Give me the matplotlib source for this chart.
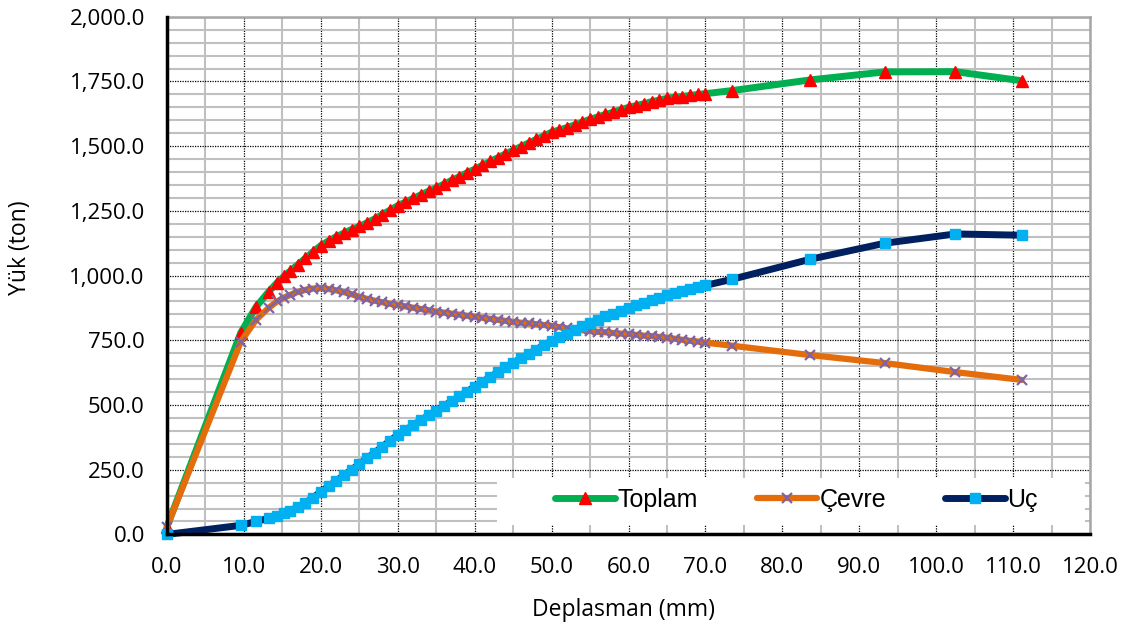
import matplotlib
matplotlib.use('Agg')
import matplotlib.pyplot as plt
from matplotlib.ticker import MultipleLocator, FuncFormatter
from matplotlib.patches import Rectangle

# deplasman (mm)
deplasman = [0, 9.6, 11.6, 13.2, 14.3, 15.2,
             16, 17, 18, 19, 20, 21, 22, 23, 24, 25, 26, 27, 28, 29,
             30, 31, 32, 33, 34, 35, 36, 37, 38, 39, 40, 41, 42, 43, 44,
             45, 46, 47, 48, 49, 50, 51, 52, 53, 54, 55, 56, 57, 58, 59,
             60, 61, 62, 63, 64, 65, 66, 67, 68, 69, 70,
             73.5, 83.6, 93.3, 102.5, 111.1]

toplam = [30, 780, 880, 937, 972, 997,
          1017, 1042, 1067, 1092, 1116, 1134, 1150, 1164, 1178, 1190, 1204, 1219, 1236, 1253,
          1270, 1284, 1298, 1312, 1326, 1339, 1353, 1368, 1382, 1397, 1411, 1426, 1441, 1455, 1470,
          1484, 1498, 1512, 1526, 1540, 1554, 1563, 1572, 1582, 1593, 1604, 1613, 1623, 1631, 1641,
          1650, 1657, 1664, 1672, 1678, 1685, 1689, 1692, 1696, 1700, 1703,
          1715, 1756, 1787, 1788, 1753]

cevre = [30, 745, 830, 875, 900, 915,
         925, 937, 945, 950, 951, 948, 943, 936, 928, 918, 910, 903, 897, 891,
         886, 881, 876, 871, 866, 861, 857, 853, 849, 845, 841, 837, 833, 829, 825,
         821, 818, 815, 812, 809, 806, 801, 796, 792, 789, 786, 783, 781, 778, 776,
         774, 771, 768, 766, 763, 760, 756, 752, 748, 745, 741,
         729, 693, 662, 627, 597]

uc = [0, 35, 50, 62, 72, 82,
      92, 105, 122, 142, 165, 186, 207, 228, 250, 272, 294, 316, 339, 362,
      384, 403, 422, 441, 460, 478, 496, 515, 533, 552, 570, 589, 608, 626, 645,
      663, 680, 697, 714, 731, 748, 762, 776, 790, 804, 818, 830, 842, 853, 865,
      876, 886, 896, 906, 915, 925, 933, 940, 948, 955, 962,
      986, 1063, 1125, 1161, 1156]

font = ['Open Sans', 'DejaVu Sans']

fig = plt.figure(figsize=(11.29, 6.35), dpi=100)
ax = fig.add_axes([167/1129, 1 - 534.4/635, 923/1129, 517.6/635])

ax.plot(deplasman, toplam, color='#00B050', lw=5, solid_capstyle='round',
        marker='^', ms=9, mfc='#FF0000', mec='#FF0000', label='Toplam', clip_on=False, zorder=3)
ax.plot(deplasman, cevre, color='#E46C0A', lw=4.5, solid_capstyle='round',
        marker='x', ms=7, mew=1.6, mec='#8064A2', label='Çevre', clip_on=False, zorder=4)
ax.plot(deplasman, uc, color='#002060', lw=5, solid_capstyle='round',
        marker='s', ms=7, mfc='#00B0F0', mec='#00B0F0', label='Uç', clip_on=False, zorder=5)

ax.set_xlim(0, 120)
ax.set_ylim(0, 2000)
ax.xaxis.set_major_locator(MultipleLocator(10))
ax.xaxis.set_minor_locator(MultipleLocator(5))
ax.yaxis.set_major_locator(MultipleLocator(250))
ax.yaxis.set_minor_locator(MultipleLocator(50))
ax.xaxis.set_major_formatter(FuncFormatter(lambda v, p: f'{v:,.1f}'))
ax.yaxis.set_major_formatter(FuncFormatter(lambda v, p: f'{v:,.1f}'))

ax.grid(which='minor', color='#C0C0C0', lw=1.5, ls='-', zorder=0)
ax.grid(which='major', color='black', lw=0.9, ls=(0, (1, 1)), zorder=1)
ax.set_axisbelow(True)

ax.tick_params(which='both', length=0)
ax.tick_params(which='major', pad=16, labelsize=16)
for lab in ax.get_xticklabels() + ax.get_yticklabels():
    lab.set_family(font)

for s in ['top', 'right']:
    ax.spines[s].set_color('#A6A6A6')
    ax.spines[s].set_linewidth(1.8)
for s in ['left', 'bottom']:
    ax.spines[s].set_color('black')
    ax.spines[s].set_linewidth(2.5)
    ax.spines[s].set_zorder(6)

ax.set_xlabel('Deplasman (mm)', fontsize=16.5, family=font)
ax.set_ylabel('Yük (ton)', fontsize=16.5, family=font)
ax.xaxis.set_label_coords(0.495, -0.122)
ax.yaxis.set_label_coords(-0.146, 0.553)

# white box behind the legend
ax.add_patch(Rectangle((42.9, 36), 76.5, 182, facecolor='white', edgecolor='none', zorder=2))
leg = ax.legend(loc='center', bbox_to_anchor=(0.682, 0.066), ncol=3, frameon=False,
                handlelength=2.4, handletextpad=0.1, columnspacing=2.35, numpoints=1,
                prop={'family': ['Liberation Sans', 'DejaVu Sans'], 'size': 18})

fig.savefig('out.png', dpi=100)
